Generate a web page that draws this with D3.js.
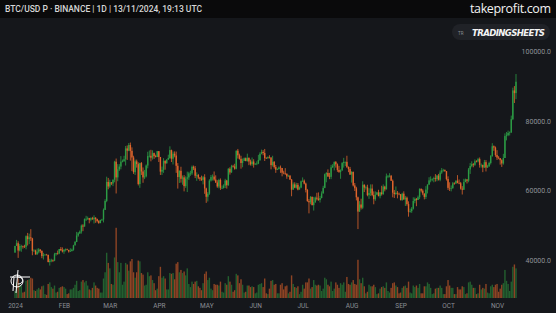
<!DOCTYPE html>
<html>
<head>
<meta charset="utf-8">
<script src="https://cdn.jsdelivr.net/npm/d3@7"></script>
<style>
  html, body { margin: 0; padding: 0; background: #15171b; }
  svg { display: block; }
</style>
</head>
<body>
<svg id="chart"></svg>
<script>
// BTC/USD perp, daily, 1 Jan 2024 .. 13 Nov 2024 (prices in thousands USD)
var firstOpen = 42.28;

var closes = [
  44.18,44.95,42.85,44.15,44.16,43.97,43.93,46.97,46.11,46.63,46.34,42.78,42.85,41.73,42.51,43.15,42.74,41.26,41.62,41.66,41.58,39.57,39.89,40.08,39.94,41.81,42.12,42.03,43.30,42.95,42.58,
  43.08,43.19,43.00,42.58,42.70,43.09,44.34,45.30,47.15,47.77,48.29,50.00,49.72,51.84,51.93,52.12,51.66,52.12,51.78,52.26,51.86,51.30,50.73,51.57,51.73,54.50,57.05,62.50,61.20,
  62.40,62.04,63.13,68.30,63.80,66.10,66.90,68.30,68.50,69.00,72.10,71.45,73.07,71.40,69.50,65.30,68.40,67.60,61.90,67.90,65.50,63.80,64.10,67.20,69.90,69.99,69.45,70.75,69.90,69.65,71.30,
  69.65,65.45,65.98,68.50,67.80,68.90,69.36,71.62,69.14,70.58,70.06,67.12,63.90,65.70,63.40,63.80,61.30,63.45,63.80,64.94,64.94,66.84,66.40,64.28,64.48,63.75,63.43,63.11,63.84,60.64,
  58.25,59.12,62.89,63.89,64.03,63.16,62.33,61.19,63.07,60.79,60.79,61.45,62.90,61.55,66.27,65.23,67.05,66.94,66.28,71.45,70.13,69.12,67.93,68.53,69.29,68.50,69.40,68.35,67.58,68.35,67.50,
  67.75,67.76,68.80,70.56,71.08,70.79,69.34,69.30,69.65,69.50,67.32,68.24,66.75,66.00,66.19,66.64,66.49,65.15,64.96,64.83,64.10,64.26,63.18,60.28,61.80,60.86,61.67,60.32,60.89,62.68,
  62.85,62.03,60.20,57.03,56.66,58.23,55.85,56.70,58.00,57.70,57.34,57.89,59.20,60.80,64.70,65.05,64.10,63.97,66.68,67.15,68.18,67.55,65.93,65.37,65.80,67.90,68.25,68.25,66.80,66.19,64.62,
  65.35,61.50,60.68,58.10,54.02,56.03,55.12,61.70,60.88,60.94,58.71,59.35,60.60,58.74,57.56,58.87,59.48,58.42,59.50,59.02,61.17,60.38,64.10,64.18,64.25,62.83,59.42,59.03,59.39,59.12,58.97,
  57.30,59.13,57.49,57.97,56.16,53.95,54.14,54.84,57.04,57.64,57.34,58.13,60.54,60.00,59.19,58.21,60.31,61.76,62.95,63.20,63.35,63.58,63.33,64.30,63.14,65.18,65.79,65.89,65.60,63.33,
  60.80,60.65,60.75,62.09,62.07,62.82,62.22,62.13,60.58,60.27,62.45,63.20,62.85,66.08,67.05,67.61,67.40,68.40,68.38,69.03,67.37,67.37,66.64,68.16,66.64,67.01,67.93,69.91,72.72,72.34,70.22,
  69.48,69.30,68.74,67.80,69.36,75.64,75.90,76.54,76.70,80.47,88.70,87.95,91.20
];

var highs = [
  44.18,45.90,45.50,44.75,44.50,44.25,44.50,47.20,47.90,47.70,48.97,46.50,43.25,43.10,43.40,43.55,43.20,42.90,42.20,41.85,41.90,41.70,40.50,40.50,40.30,42.20,42.20,42.85,43.30,43.85,43.75,
  43.25,43.45,43.40,43.10,43.50,43.40,44.50,45.60,48.20,48.15,48.60,50.30,50.40,52.05,52.80,52.58,52.20,52.35,52.50,52.95,52.40,52.00,51.55,51.70,51.95,54.90,57.55,64.00,63.65,
  63.15,62.45,63.23,68.55,69.20,67.60,67.60,69.90,68.90,70.00,72.80,72.95,73.65,73.78,72.40,70.00,68.90,68.90,68.10,68.00,68.20,66.65,65.95,67.50,71.15,71.50,71.70,71.55,70.90,70.30,71.35,
  71.35,69.65,66.90,69.30,68.75,69.00,70.30,72.70,71.75,71.20,71.25,71.20,67.90,65.80,66.85,64.35,64.45,64.10,65.45,65.40,65.70,67.20,67.20,67.05,65.25,64.80,63.90,64.30,64.20,64.70,
  60.85,59.60,63.30,64.50,64.65,65.50,64.40,63.00,63.40,63.50,61.50,61.85,63.40,63.10,66.45,66.70,67.40,67.40,67.70,71.50,71.95,70.60,70.00,69.20,69.50,69.50,70.60,69.50,68.90,69.50,69.00,
  67.85,68.40,70.25,71.00,71.75,71.60,71.95,69.60,69.85,70.15,69.55,70.00,68.50,67.35,66.40,66.95,67.20,66.50,65.70,66.45,64.95,64.55,64.50,63.35,62.35,62.40,62.25,62.20,61.20,62.90,
  63.80,63.20,62.30,60.50,57.60,58.45,58.30,58.20,58.30,59.40,59.50,58.50,59.80,61.40,64.90,65.30,66.10,65.10,67.40,67.60,68.40,68.50,67.80,67.10,66.10,68.20,69.40,68.30,70.00,66.95,66.80,
  65.60,65.50,62.20,61.10,58.30,57.00,57.70,62.70,61.80,61.45,61.70,60.70,61.80,61.80,59.80,59.80,59.65,60.25,59.60,61.40,61.80,61.40,64.90,64.50,65.00,64.50,63.20,60.20,61.20,59.90,59.45,
  59.05,59.40,59.80,58.50,58.30,56.95,54.85,55.30,58.10,58.05,57.90,58.60,60.65,60.60,60.40,59.20,61.30,61.80,63.85,64.10,63.55,64.00,64.75,64.50,64.80,65.80,66.50,66.25,66.10,65.60,
  64.10,62.40,61.50,62.50,62.40,63.00,64.45,63.20,62.50,61.30,63.40,63.45,63.30,66.50,67.90,68.40,67.90,68.95,68.70,69.40,69.50,67.80,67.45,68.80,68.75,67.40,68.30,70.20,73.60,72.95,72.65,
  71.60,69.90,69.35,69.00,70.55,76.40,76.80,77.20,76.95,81.50,89.50,89.95,93.40
];

var lows = [
  42.21,44.20,40.75,42.60,42.50,43.40,43.60,43.20,44.30,44.70,45.60,41.50,42.45,41.70,41.70,42.05,42.20,40.65,40.28,41.45,41.50,39.45,38.55,39.50,39.55,39.80,41.40,41.65,41.80,42.70,42.30,
  41.90,42.60,42.90,42.25,42.50,42.60,42.80,44.30,45.25,46.80,47.60,47.70,48.40,49.70,51.30,51.60,50.65,51.20,51.70,50.60,50.80,50.90,50.50,50.65,51.30,50.90,54.45,56.70,60.40,
  60.80,61.60,61.30,62.40,59.20,62.70,65.65,66.10,68.10,68.20,67.20,68.80,71.30,68.60,65.60,64.80,64.50,66.60,61.50,60.80,64.50,62.25,63.30,63.80,66.40,69.50,68.40,68.90,69.10,69.50,69.60,
  68.20,64.50,64.50,65.10,66.00,67.80,68.80,69.10,68.20,67.50,69.55,65.10,60.60,62.20,62.30,61.70,59.80,60.80,59.60,63.10,64.25,64.50,65.90,63.60,62.80,63.30,62.80,62.80,61.80,59.10,
  56.50,56.90,58.80,62.60,62.90,62.80,62.20,60.80,60.65,60.20,60.50,60.60,60.75,60.60,61.40,64.60,65.10,66.60,66.00,66.10,69.20,68.90,66.30,66.70,68.50,68.40,68.30,67.30,67.20,67.10,66.60,
  67.40,67.30,67.60,68.50,70.40,70.15,68.50,69.20,69.10,69.20,66.10,66.90,66.30,65.10,65.90,66.05,65.10,64.10,64.70,64.50,63.40,63.95,63.10,58.40,60.30,60.70,60.60,60.10,60.30,60.70,
  62.50,61.80,59.50,56.80,53.50,56.10,55.80,54.30,56.50,57.20,57.10,56.60,57.80,59.20,60.70,62.40,63.90,63.30,63.30,66.50,65.80,66.60,65.40,65.10,63.40,65.70,66.60,67.05,66.50,65.30,64.50,
  62.30,61.20,59.90,57.20,49.00,53.90,54.60,54.70,59.60,60.30,58.40,57.65,58.50,58.40,56.10,57.10,58.80,58.40,57.80,58.60,58.80,59.80,60.35,63.60,63.80,62.80,58.10,57.90,58.80,57.80,58.70,
  57.20,57.10,57.40,55.60,55.70,52.55,53.70,53.65,54.60,56.40,55.55,57.30,57.60,59.50,58.70,57.50,57.60,59.20,61.60,62.40,62.70,62.40,62.60,62.70,62.90,62.70,64.80,65.45,65.40,62.90,
  60.20,59.90,59.80,60.50,61.70,61.90,62.10,61.85,60.30,58.90,60.20,62.45,62.05,62.40,64.80,66.70,66.70,67.10,68.10,68.10,66.60,66.60,65.30,66.50,65.50,66.50,66.80,67.50,69.70,71.40,69.70,
  68.80,69.00,67.45,66.80,67.45,69.35,74.40,75.60,75.80,76.50,80.20,85.10,86.20
];

// volume, thousand BTC
var volumes = [
  90,200,250,170,160,70,80,220,230,240,260,250,100,90,110,130,110,150,160,50,40,180,200,140,120,160,70,80,130,140,150,
  140,120,50,60,110,110,130,170,220,90,100,210,230,200,220,160,110,100,130,200,160,130,120,70,70,250,330,580,450,
  380,180,170,520,900,460,330,450,170,210,450,430,350,470,500,330,260,330,480,470,320,300,160,170,330,280,290,230,190,100,120,
  280,400,260,280,250,110,110,320,310,320,240,440,460,330,360,320,340,290,380,180,140,210,180,210,220,150,130,100,190,310,
  340,230,260,120,100,180,170,170,160,210,80,70,190,170,280,210,170,80,100,310,290,190,240,170,70,80,160,160,140,150,140,
  60,70,170,180,190,140,250,60,50,120,220,230,170,180,60,60,170,190,110,150,160,60,80,290,180,140,130,150,50,80,
  170,120,200,200,250,120,140,230,170,160,170,160,90,120,260,240,170,150,210,90,120,200,170,130,190,170,200,80,270,180,170,
  200,230,180,170,490,240,190,260,150,60,80,170,150,150,170,140,50,60,120,140,150,130,200,90,70,130,190,200,160,140,60,
  70,130,150,160,130,210,70,60,160,140,160,130,180,60,60,150,150,200,180,130,50,60,120,130,130,160,130,50,50,150,
  230,160,130,130,50,50,140,110,110,150,140,50,60,200,210,170,130,130,50,60,170,110,130,120,180,70,60,150,170,140,170,
  180,80,120,170,190,360,220,180,90,210,400,430,380
];

var priceTicks = [40, 60, 80, 100];
var monthLabels = ["2024", "FEB", "MAR", "APR", "MAY", "JUN", "JUL", "AUG", "SEP", "OCT", "NOV"];

var W = 556, H = 313;
var upcolor = "#2c9c45";
var downcolor = "#e0652c";
var upvol = "#23602f";
var downvol = "#8e4424";

var svg = d3.select("#chart").attr("width", W).attr("height", H);

svg.append("rect").attr("width", W).attr("height", H).attr("fill", "#15171b");

var start = new Date(Date.UTC(2024, 0, 1));
var end = new Date(Date.UTC(2024, 10, 13));
var dates = d3.utcDay.range(start, d3.utcDay.offset(end, 1));

var data = dates.map(function (d, i) {
  return {
    date: d,
    open: i === 0 ? firstOpen : closes[i - 1],
    close: closes[i],
    high: highs[i],
    low: lows[i],
    vol: volumes[i]
  };
});

var x = d3.scaleUtc().domain([start, end]).range([15, 516]);
var y = d3.scaleLinear().domain([40, 100]).range([260.5, 51]);
var yv = d3.scaleLinear().domain([0, 1000]).range([298, 220]);

// volume
svg.append("g").selectAll(".vol")
  .data(data)
.enter().append("rect")
  .attr("class", "vol")
  .attr("x", function(d){ return x(d.date) - 0.7; })
  .attr("width", 1.4)
  .attr("y", function(d){ return yv(d.vol); })
  .attr("height", function(d){ return yv(0) - yv(d.vol); })
  .attr("fill", function(d){ return d.close >= d.open ? upvol : downvol; });

// candles
var candles = svg.append("g").selectAll(".candle")
  .data(data)
.enter().append("g")
  .attr("class", "candle");

candles.append("line")
  .attr("x1", function(d){ return x(d.date); })
  .attr("x2", function(d){ return x(d.date); })
  .attr("y1", function(d){ return y(Math.max(d.high, d.open, d.close)); })
  .attr("y2", function(d){ return y(Math.min(d.low, d.open, d.close)); })
  .attr("stroke", function(d){ return d.close >= d.open ? upcolor : downcolor; })
  .attr("stroke-width", 0.8);

candles.append("rect")
  .attr("x", function(d){ return x(d.date) - 0.7; })
  .attr("width", 1.4)
  .attr("y", function(d){ return y(Math.max(d.open, d.close)); })
  .attr("height", function(d){ return Math.max(0.6, Math.abs(y(d.open) - y(d.close))); })
  .attr("fill", function(d){ return d.close >= d.open ? upcolor : downcolor; });

// price axis
var yAxis = svg.append("g")
  .attr("transform", "translate(518,0)")
  .call(d3.axisRight(y).tickValues(priceTicks).tickSize(0)
    .tickFormat(function(d){ return (d * 1000).toFixed(1); }));
yAxis.select(".domain").remove();
yAxis.selectAll("text")
  .attr("x", 33)
  .attr("text-anchor", "end")
  .attr("fill", "#8f9298")
  .style("font-family", "Roboto, sans-serif")
  .style("font-size", "7px");

// time axis
var monthDates = d3.utcMonth.range(start, end);
var xAxis = svg.append("g")
  .attr("transform", "translate(0,302)")
  .call(d3.axisBottom(x).tickValues(monthDates).tickSize(0)
    .tickFormat(function(d, i){ return monthLabels[i]; }));
xAxis.select(".domain").remove();
xAxis.selectAll("text")
  .attr("y", 1)
  .attr("fill", "#8a8d93")
  .style("font-family", "Roboto, sans-serif")
  .style("font-size", "6.5px");

// header bar
svg.append("rect").attr("width", W).attr("height", 18).attr("fill", "#0a0a0b");
svg.append("text")
  .attr("x", 5).attr("y", 12)
  .attr("fill", "#d6d6d6")
  .attr("textLength", 197)
  .style("font-family", "Roboto, sans-serif")
  .style("font-size", "8.5px")
  .style("font-weight", "500")
  .text("BTC/USD P \u00b7 BINANCE | 1D | 13/11/2024, 19:13 UTC");
svg.append("text")
  .attr("x", 470).attr("y", 13)
  .attr("fill", "#f2f2f2")
  .attr("textLength", 81)
  .style("font-family", "'Open Sans', sans-serif")
  .style("font-size", "12.5px")
  .text("takeprofit.com");

// TradingSheets badge
svg.append("rect")
  .attr("x", 452).attr("y", 24).attr("width", 98).attr("height", 16)
  .attr("rx", 8).attr("fill", "#202227");
svg.append("text")
  .attr("x", 458).attr("y", 34.5)
  .attr("fill", "#8a8d93")
  .style("font-family", "Roboto, sans-serif")
  .style("font-size", "4.5px")
  .text("TR");
svg.append("text")
  .attr("x", 472).attr("y", 36)
  .attr("fill", "#f4f4f4")
  .attr("textLength", 73)
  .style("font-family", "'DejaVu Sans Condensed', 'DejaVu Sans', sans-serif")
  .style("font-size", "9.5px")
  .style("font-weight", "bold")
  .style("font-style", "italic")
  .text("TRADINGSHEETS");

// logo bottom left
var logo = svg.append("g").attr("fill", "none").attr("stroke", "#ffffff").attr("stroke-width", 1);
logo.append("circle").attr("cx", 17).attr("cy", 281).attr("r", 6);
logo.append("line").attr("x1", 10).attr("x2", 30).attr("y1", 277).attr("y2", 277);
logo.append("line").attr("x1", 18).attr("x2", 16).attr("y1", 270).attr("y2", 293);
logo.append("path").attr("d", "M18,277 C24,277 24,284 18,284");
logo.append("line").attr("x1", 14).attr("x2", 13).attr("y1", 277).attr("y2", 291);
</script>
</body>
</html>
